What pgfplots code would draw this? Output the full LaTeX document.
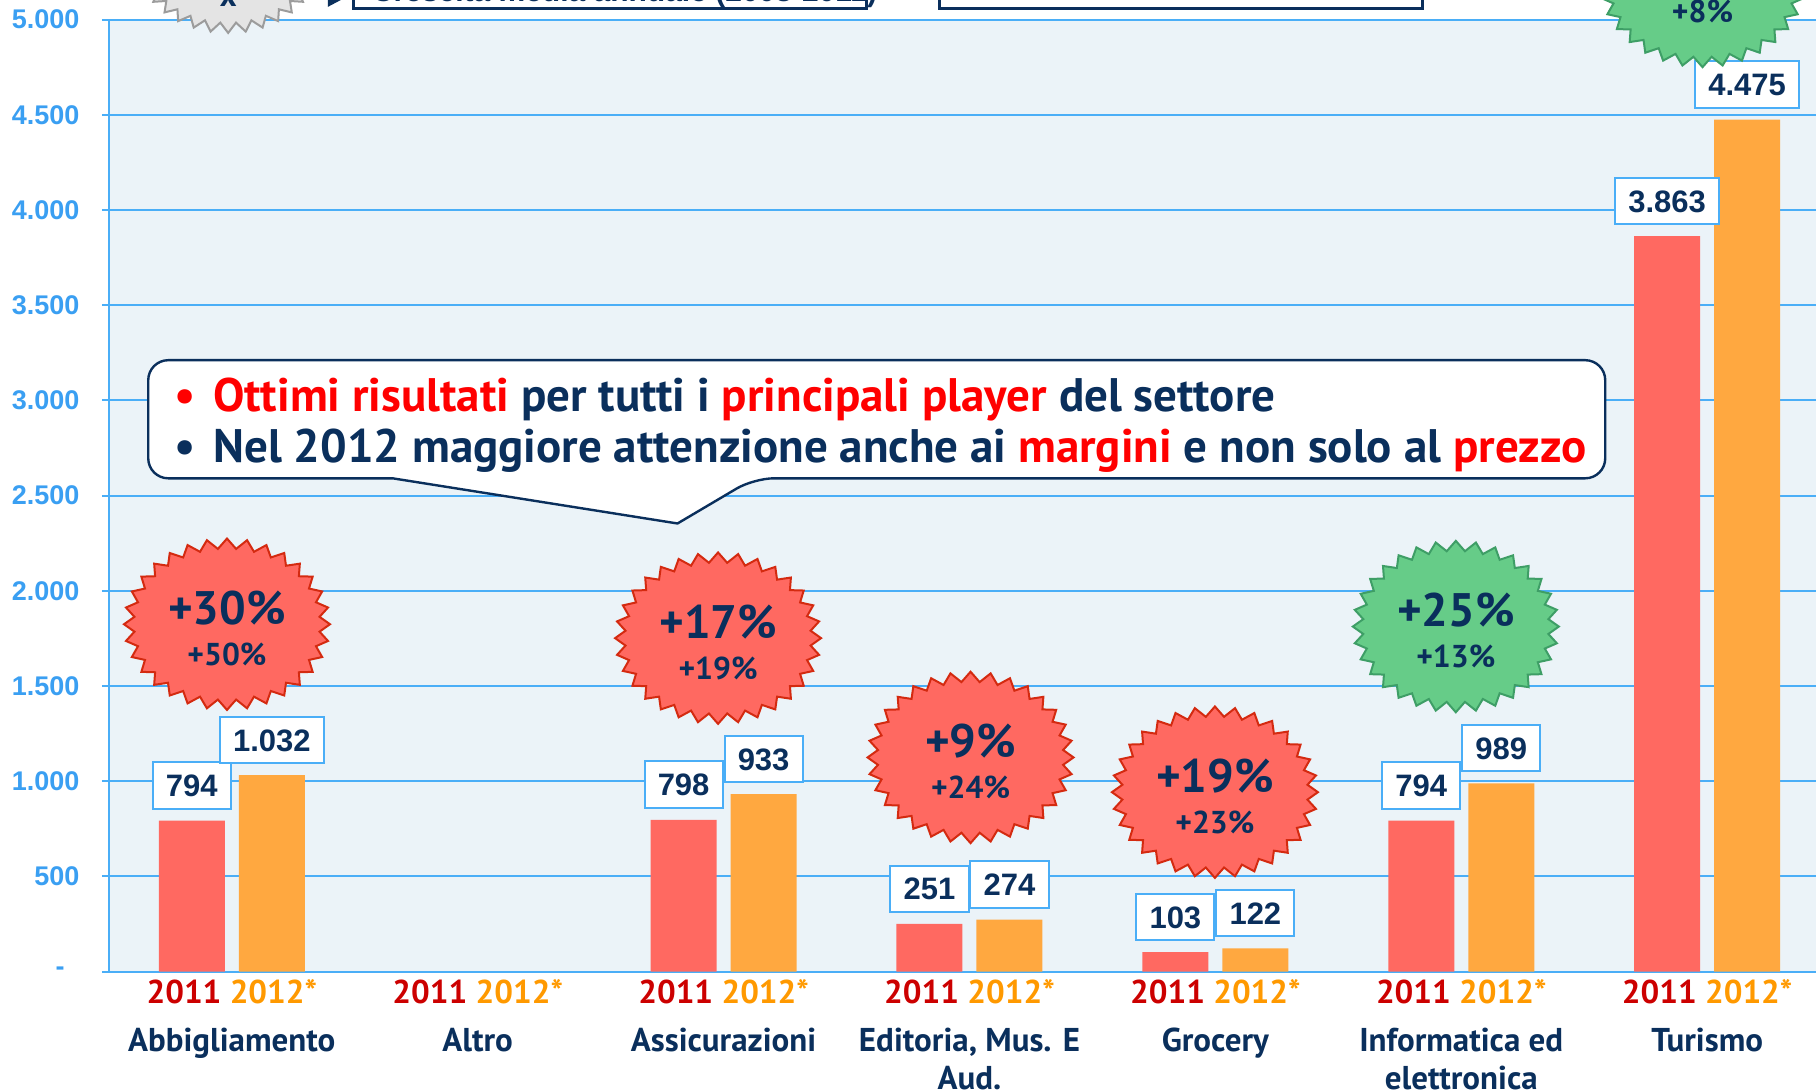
\documentclass[border=0pt]{standalone}
\usepackage{pgfplots}
\pgfplotsset{compat=1.18}
\usepackage{fontspec}
\setmainfont{PT Sans}
\newfontfamily\lib{Liberation Sans}
\usetikzlibrary{shapes.symbols}
\definecolor{navy}{HTML}{0A2F5C}
\definecolor{gridblue}{HTML}{4AAEF7}
\definecolor{tickblue}{HTML}{3A9FF2}
\definecolor{bgcol}{HTML}{EBF3F8}
\definecolor{bar11}{HTML}{FF6961}
\definecolor{bar12}{HTML}{FFA840}
\definecolor{t11}{HTML}{CC0000}
\definecolor{t12}{HTML}{FF9900}
\definecolor{hred}{HTML}{FF0000}
\definecolor{redb}{HTML}{D42A10}
\definecolor{grnf}{HTML}{66CC88}
\definecolor{grnb}{HTML}{3E9E66}
\definecolor{grayf}{HTML}{E4E4E4}
\definecolor{grayb}{HTML}{9C9C9C}
\newcommand{\yy}{{\color{t11}2011} {\color{t12}2012*}\\[5.3pt]}
\begin{document}
\begin{tikzpicture}
\useasboundingbox (-54.45pt,-59.65pt) rectangle (853.55pt,485.85pt);
\clip (-54.45pt,-59.65pt) rectangle (853.55pt,485.85pt);
\begin{axis}[
  at={(0,0)}, anchor=south west, scale only axis,
  width=860.6pt, height=476pt,
  xmin=-0.5, xmax=6.5, ymin=0, ymax=5000,
  ybar, bar width=33pt,
  axis background/.style={fill=bgcol},
  axis x line*=bottom, axis y line*=left,
  axis line style={draw=gridblue, line width=1pt},
  ymajorgrids, grid style={draw=gridblue, line width=1pt},
  tick align=outside,
  major tick length=3.5pt,
  ytick={0,500,...,5000},
  yticklabels={{-\hspace*{7.5pt}},500,1.000,1.500,2.000,2.500,3.000,3.500,4.000,4.500,5.000},
  yticklabel style={font=\lib\bfseries\fontsize{13.5}{15}\selectfont, text=tickblue, inner sep=0pt, xshift=-11pt},
  y tick style={draw=gridblue, line width=1pt},
  xtick={0,1,2,3,4,5,6},
  x tick style={draw=none},
  xticklabels={{\yy Abbigliamento},{\yy Altro},{\yy Assicurazioni},{\yy Editoria, Mus. E\\Aud.},{\yy Grocery},{\yy Informatica ed\\elettronica},{\yy Turismo}},
  xticklabel style={align=center, font=\bfseries\fontsize{16.5}{19}\selectfont, text=navy, inner sep=0pt, anchor=north, yshift=0pt},
  /pgf/number format/1000 sep={.},
  /pgf/number format/assume math mode=true,
  nodes near coords,
  every node near coord/.append style={anchor=south, yshift=5.5pt, fill=white, draw=gridblue, line width=1pt, inner xsep=6.6pt, inner ysep=6pt, text height=11.2pt, text depth=0pt, font=\lib\bfseries\fontsize{15.5}{18}\selectfont, text=navy},
]
\addplot[fill=bar11, draw=none, bar shift=-20pt] coordinates {(0,794) (2,798) (3,251) (4,103) (5,794) (6,3863)};
\addplot[fill=bar12, draw=none, bar shift=20pt] coordinates {(0,1032) (2,933) (3,274) (4,122) (5,989) (6,4475)};
\end{axis}
\begin{scope}[shift={(-54.45pt,485.85pt)}, x=0.57908pt, y=-0.57908pt]
  \tikzset{burst/.style={starburst, starburst points=32, starburst point height=5pt, random starburst=0, minimum width=103pt, minimum height=85.7pt, line width=1pt, inner sep=0pt},
    big/.style={font=\bfseries\fontsize{23.5}{26}\selectfont, text=navy},
    small/.style={font=\bfseries\fontsize{15.8}{18}\selectfont, text=navy}}
  \foreach \cx/\cy/\fc/\bc/\ta/\tb in {196/539/bar11/redb/+30\%/+50\%, 620/551/bar11/redb/+17\%/+19\%, 838/654/bar11/redb/+9\%/+24\%, 1049/684/bar11/redb/+19\%/+23\%, 1257/541/grnf/grnb/+25\%/+13\%, 1470/-16/grnf/grnb/+16\%/+8\%}{
    \node[burst, fill=\fc, draw=\bc] at (\cx,\cy) {};
    \node[big] at (\cx,\cy-14) {\ta};
    \node[small] at (\cx,\cy+26) {\tb};
  }
  \node[burst, fill=grayf, draw=grayb, minimum width=90pt, minimum height=70pt] at (197,-32) {};
  \node[font=\bfseries\fontsize{16}{18}\selectfont, text=navy, anchor=base] at (197,6) {x};
  \fill[navy] (283,-12) -- (300,-3) -- (283,6) -- cycle;
  \draw[navy, line width=1.5pt, fill=white] (305,-50) rectangle (748,7);
  \node[font=\lib\bfseries\fontsize{15}{18}\selectfont, text=navy, anchor=base west] at (315,1) {Crescita media annuale (2008-2011)};
  \draw[navy, line width=1.5pt, fill=white] (811,-50) rectangle (1228,7);
  \draw[navy, line width=1.2pt, fill=white, rounded corners=10pt] (339,413) -- (128,413) -- (128,311) -- (1386,311) -- (1386,413) -- (651,413) [sharp corners] -- (585,452) -- cycle;
  \node[font=\bfseries\fontsize{23.5}{28}\selectfont, text=navy, anchor=base west, inner sep=0pt] at (150,355) {{\color{hred}•}\hspace{9pt}{\color{hred}Ottimi risultati} per tutti i {\color{hred}principali player} del settore};
  \node[font=\bfseries\fontsize{23.5}{28}\selectfont, text=navy, anchor=base west, inner sep=0pt] at (150,399) {•\hspace{9pt}Nel 2012 maggiore attenzione anche ai {\color{hred}margini} e non solo al {\color{hred}prezzo}};
\end{scope}
\end{tikzpicture}
\end{document}
